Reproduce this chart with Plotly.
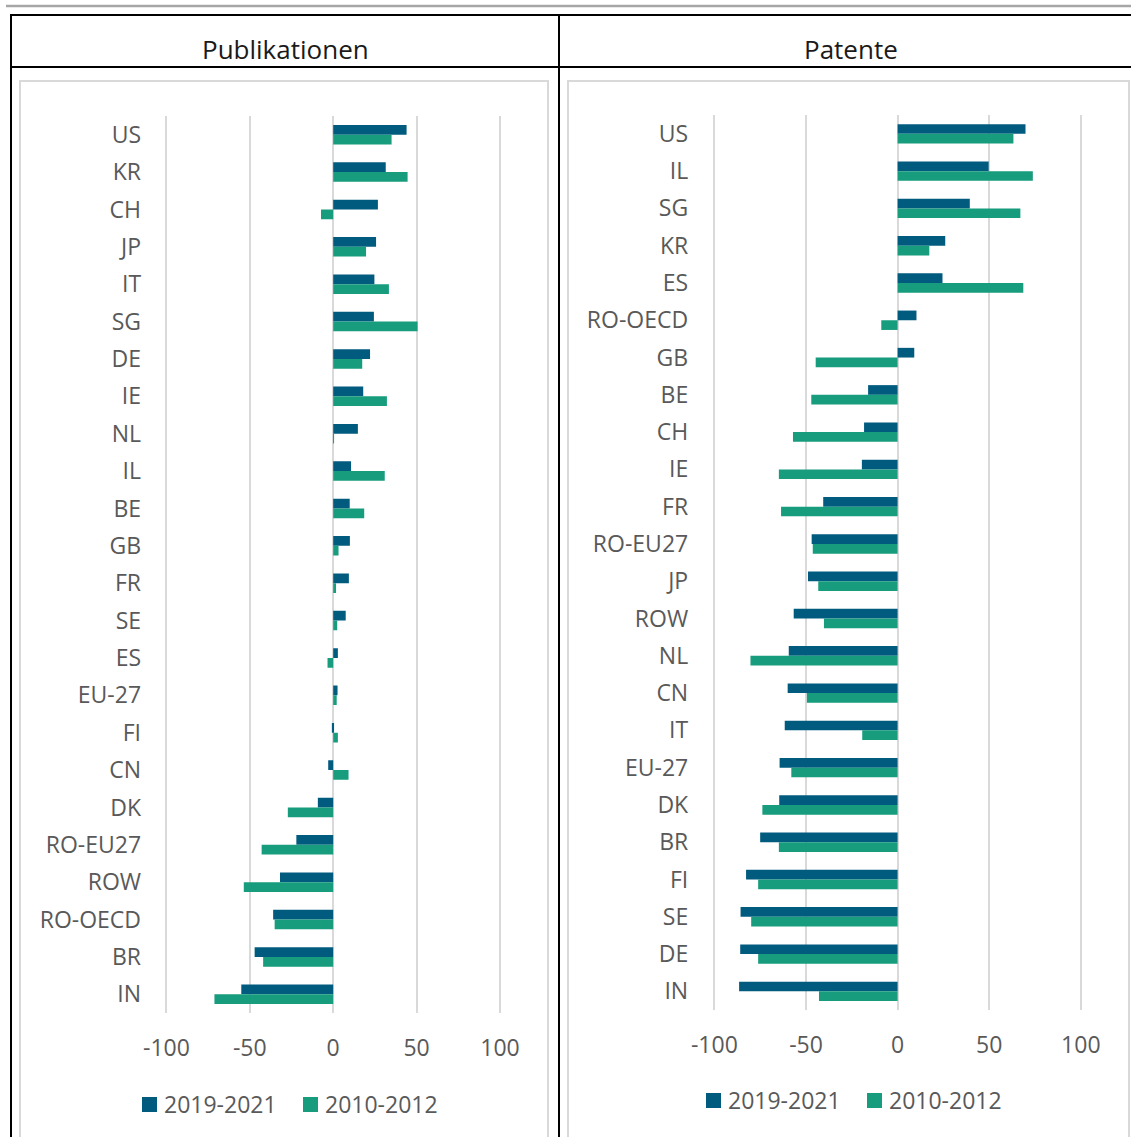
import plotly.graph_objects as go

# ---- data -------------------------------------------------------------
pub_countries = ["US", "KR", "CH", "JP", "IT", "SG", "DE", "IE", "NL", "IL", "BE", "GB",
                 "FR", "SE", "ES", "EU-27", "FI", "CN", "DK", "RO-EU27", "ROW", "RO-OECD",
                 "BR", "IN"]
pub_2019_2021 = [44, 31.5, 26.8, 25.7, 24.7, 24.4, 22.1, 18, 14.8, 10.7, 9.9, 10,
                 9.4, 7.5, 2.8, 2.6, -0.8, -3, -9.2, -22.1, -31.9, -36, -47.1, -55.1]
pub_2010_2012 = [35, 44.6, -7.3, 19.7, 33.4, 50.6, 17.4, 32.2, 0.2, 30.9, 18.6, 3.2,
                 1.7, 2.4, -3.4, 2.1, 2.8, 9.2, -27.2, -42.9, -53.6, -35.1, -42, -71.2]

pat_countries = ["US", "IL", "SG", "KR", "ES", "RO-OECD", "GB", "BE", "CH", "IE", "FR",
                 "RO-EU27", "JP", "ROW", "NL", "CN", "IT", "EU-27", "DK", "BR", "FI", "SE",
                 "DE", "IN"]
pat_2019_2021 = [69.8, 49.7, 39.4, 26, 24.5, 10.3, 9.1, -16.1, -18.3, -19.5, -40.6,
                 -46.9, -48.9, -56.7, -59.4, -60, -61.6, -64.4, -64.6, -75, -82.7, -85.7,
                 -85.9, -86.5]
pat_2010_2012 = [63.2, 73.8, 67, 17.3, 68.6, -8.9, -44.7, -47.1, -57.1, -64.8, -63.6,
                 -46.3, -43.3, -40.2, -80.3, -49.5, -19.3, -58, -73.8, -64.8, -76.1, -79.9,
                 -76.1, -42.9]

series_names = ["2019-2021", "2010-2012"]
panel_titles = ["Publikationen", "Patente"]
x_tickvals = [-100, -50, 0, 50, 100]
x_ticktext = ["-100", "-50", "0", "50", "100"]

# ---- style ------------------------------------------------------------
W, H = 1131, 1137
BLUE = "#005B7F"
GREEN = "#179C7D"
TEXT = "#595959"
GRID = "#D9D9D9"
FONT = "Open Sans"


def px(x):
    return x / W


def py(y):
    return 1 - y / H


fig = go.Figure()

panels = [
    ("x", "y", pub_countries, pub_2019_2021, pub_2010_2012),
    ("x2", "y2", pat_countries, pat_2019_2021, pat_2010_2012),
]
for xa, ya, cats, recent, early in panels:
    for name, vals, col in ((series_names[0], recent, BLUE), (series_names[1], early, GREEN)):
        fig.add_trace(go.Bar(
            x=vals, y=cats, orientation="h", name=name,
            marker=dict(color=col, line=dict(width=0)),
            xaxis=xa, yaxis=ya, showlegend=False,
        ))

xaxis_common = dict(
    range=[-105, 105], tickvals=x_tickvals, ticktext=x_ticktext,
    showgrid=True, gridcolor=GRID, gridwidth=2,
    zeroline=True, zerolinecolor=GRID, zerolinewidth=2,
    showline=False, ticks="", ticklabelstandoff=19, automargin=False,
    tickfont=dict(family=FONT, size=23, color=TEXT),
    fixedrange=True,
)
yaxis_common = dict(
    showgrid=False, zeroline=False, showline=False, ticks="",
    ticklabelstandoff=16, automargin=False,
    tickfont=dict(family=FONT, size=23, color=TEXT),
    fixedrange=True,
)

fig.update_layout(
    width=W, height=H,
    margin=dict(l=0, r=0, t=0, b=0, autoexpand=False),
    paper_bgcolor="white", plot_bgcolor="white",
    barmode="group", bargap=0.48, bargroupgap=0,
    showlegend=False,
    xaxis=dict(domain=[px(158.06), px(508.34)], anchor="y", **xaxis_common),
    yaxis=dict(domain=[py(1013), py(116)], anchor="x",
               categoryorder="array", categoryarray=pub_countries,
               autorange="reversed", **yaxis_common),
    xaxis2=dict(domain=[px(705.2), px(1090.0)], anchor="y2", **xaxis_common),
    yaxis2=dict(domain=[py(1010), py(115.2)], anchor="x2",
                categoryorder="array", categoryarray=pat_countries,
                autorange="reversed", **yaxis_common),
)

# ---- frame: rule on top, table grid, chart boxes ------------------------
P = dict(xref="paper", yref="paper")
shapes = [
    dict(type="line", x0=px(6), x1=1, y0=py(6), y1=py(6),
         line=dict(color="#A6A6A6", width=2.5), **P),
    dict(type="line", x0=px(10), x1=1, y0=py(15), y1=py(15),
         line=dict(color="black", width=2), **P),
    dict(type="line", x0=px(10), x1=1, y0=py(67), y1=py(67),
         line=dict(color="black", width=2), **P),
    dict(type="line", x0=px(11), x1=px(11), y0=py(14), y1=0,
         line=dict(color="black", width=2), **P),
    dict(type="line", x0=px(559), x1=px(559), y0=py(14), y1=0,
         line=dict(color="black", width=2), **P),
]
for left, right in ((20, 548), (568, 1129)):
    shapes += [
        dict(type="line", x0=px(left), x1=px(right), y0=py(81), y1=py(81),
             line=dict(color=GRID, width=2), **P),
        dict(type="line", x0=px(left), x1=px(left), y0=py(80), y1=0,
             line=dict(color=GRID, width=2), **P),
        dict(type="line", x0=px(right), x1=px(right), y0=py(80), y1=0,
             line=dict(color=GRID, width=2), **P),
    ]

annotations = [
    dict(text=panel_titles[0], x=px(285), y=py(49), showarrow=False,
         xanchor="center", yanchor="middle",
         font=dict(family=FONT, size=26, color="#1A1A1A"), **P),
    dict(text=panel_titles[1], x=px(851), y=py(49), showarrow=False,
         xanchor="center", yanchor="middle",
         font=dict(family=FONT, size=26, color="#1A1A1A"), **P),
]

# ---- legends below each panel -----------------------------------------
legend_items = [
    # (square left, text left, centre y, colour, label)
    (142, 162, 1104, BLUE, series_names[0]),
    (303, 323, 1104, GREEN, series_names[1]),
    (706, 726, 1100, BLUE, series_names[0]),
    (867, 887, 1100, GREEN, series_names[1]),
]
for sq_x, tx, cy, col, label in legend_items:
    shapes.append(dict(type="rect", x0=px(sq_x), x1=px(sq_x + 15),
                       y0=py(cy + 8), y1=py(cy - 7),
                       fillcolor=col, line=dict(width=0), **P))
    annotations.append(dict(text=label, x=px(tx), y=py(cy), showarrow=False,
                            xanchor="left", yanchor="middle",
                            font=dict(family=FONT, size=23, color=TEXT), **P))

fig.update_layout(shapes=shapes, annotations=annotations)

fig.write_html("out.html")
